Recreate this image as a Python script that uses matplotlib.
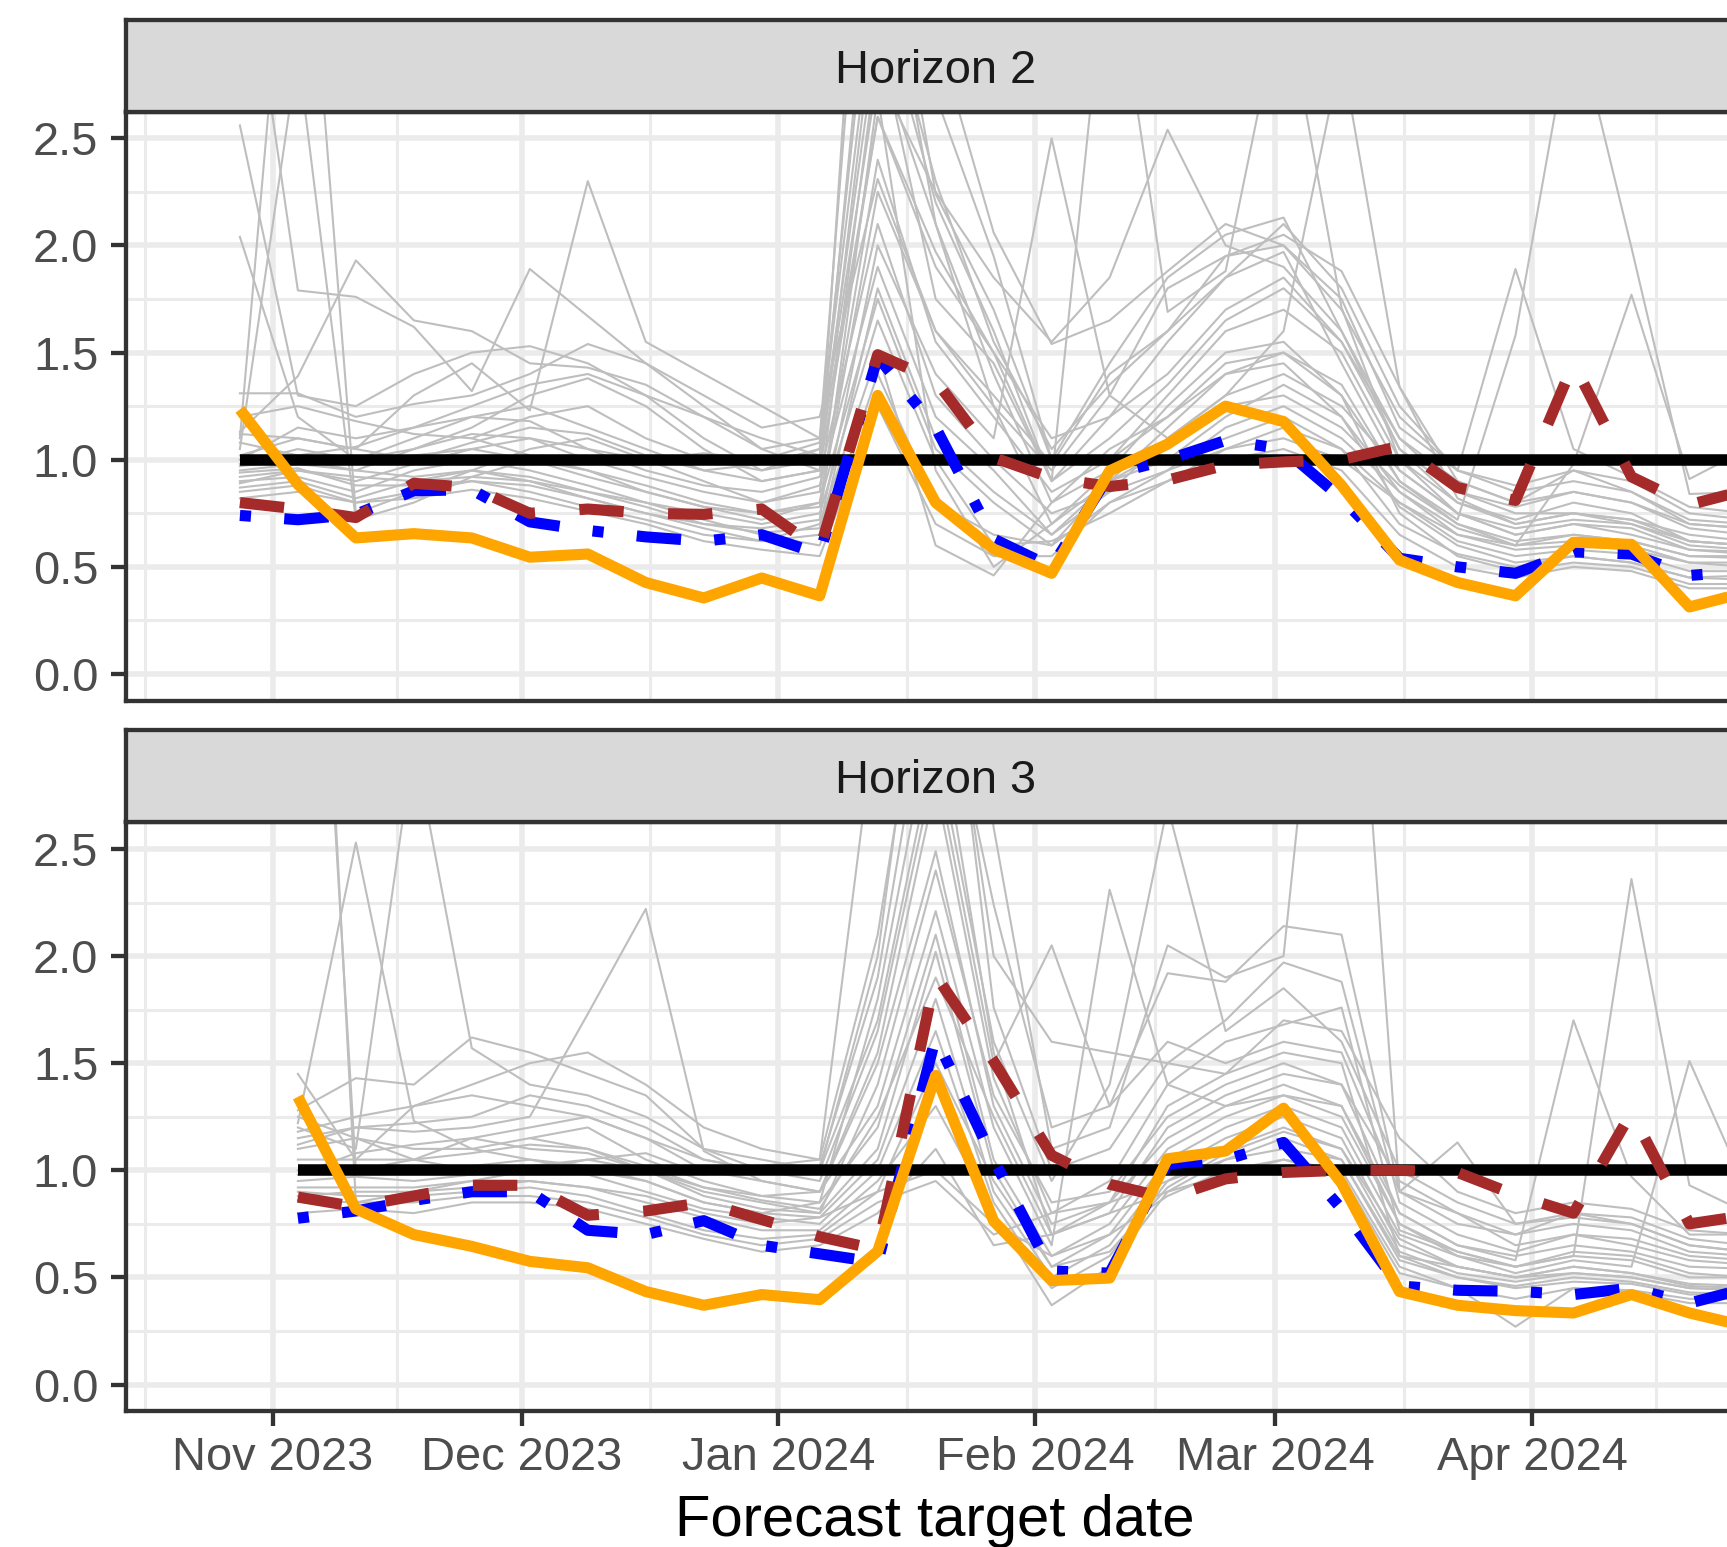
import numpy as np
import pandas as pd
import matplotlib
matplotlib.use("Agg")
import matplotlib.pyplot as plt
import matplotlib.dates as mdates
from matplotlib.ticker import FixedLocator

plt.rcParams['font.family'] = ['Liberation Sans', 'DejaVu Sans']

nan = np.nan
# ---------------- data ----------------
dates = pd.date_range("2023-10-28", periods=27, freq="7D")
panel_titles = ["Horizon 2", "Horizon 3"]
y_ticks = [0.0, 0.5, 1.0, 1.5, 2.0, 2.5]
y_tick_labels = ["0.0", "0.5", "1.0", "1.5", "2.0", "2.5"]

# Horizon 2
h2_baseline = [1.0, 1.0, 1.0, 1.0, 1.0, 1.0, 1.0, 1.0, 1.0, 1.0, 1.0, 1.0, 1.0, 1.0,
               1.0, 1.0, 1.0, 1.0, 1.0, 1.0, 1.0, 1.0, 1.0, 1.0, 1.0, 1.0, 1.0]
h2_orange = [1.235, 0.885, 0.635, 0.655, 0.635, 0.545, 0.56, 0.427, 0.355, 0.448, 0.365, 1.30, 0.80,
             0.583, 0.47, 0.948, 1.073, 1.25, 1.178, 0.88, 0.532, 0.427, 0.365, 0.615, 0.605, 0.313, 0.383]
h2_blue = [0.74, 0.72, 0.745, 0.855, 0.86, 0.71, 0.67, 0.64, 0.62, 0.65, 0.56, 1.48, 1.15,
           0.63, 0.50, 0.93, 1.00, 1.09, 1.05, 0.82, 0.54, 0.50, 0.47, 0.57, 0.56, 0.46, 0.48]
h2_brown = [0.80, 0.77, 0.73, 0.89, 0.87, 0.75, 0.77, 0.75, 0.745, 0.77, 0.58, 1.49, 1.37,
            1.01, 0.915, 0.875, 0.905, 0.975, 0.99, 1.00, 1.063, 0.87, 0.81, 1.45, 0.92, 0.79, 0.86]
h2_models = [
    [2.56, 1.30, 1.25, 1.40, 1.50, 1.53, 1.45, 1.30, 1.10, 0.95, 1.00, 3.80, 2.24, 1.70, 1.00, 1.45, 1.85, 2.05, 2.13, 1.60, 1.05, 0.80, 0.72, 0.80, 0.75, 0.62, 0.60],
    [2.04, 1.20, 1.00, 1.05, 1.15, 1.30, 1.38, 1.25, 1.05, 0.90, 0.95, 2.60, 1.97, 1.50, 0.90, 1.20, 1.55, 1.85, 1.97, 1.45, 0.95, 0.75, 0.65, 0.70, 0.68, 0.58, 0.56],
    [3.65, 1.79, 1.76, 1.62, 1.32, 1.89, 1.67, 1.45, 1.25, 1.05, 1.10, 4.50, 3.00, 2.06, 1.54, 1.65, 1.88, 2.10, 2.00, 1.70, 1.20, 0.95, 0.85, 0.90, 0.85, 0.72, 0.70],
    [1.31, 1.31, 1.20, 1.26, 1.30, 1.40, 1.54, 1.45, 1.30, 1.15, 1.20, 2.31, 1.60, 1.30, 0.98, 1.40, 1.60, 1.95, 2.05, 1.88, 1.34, 0.90, 0.80, 0.85, 0.80, 0.70, 0.68],
    [1.13, 1.39, 1.93, 1.65, 1.60, 1.45, 1.43, 1.35, 1.20, 1.05, 0.95, 3.20, 2.20, 1.60, 0.90, 1.10, 1.35, 1.65, 1.80, 1.55, 1.10, 0.85, 0.75, 0.75, 0.72, 0.65, 0.62],
    [1.10, 4.20, 0.75, 0.85, 0.95, 1.05, 1.10, 1.00, 0.90, 0.80, 0.85, 2.90, 2.10, 1.40, 0.80, 0.95, 1.25, 1.50, 1.55, 1.30, 0.90, 0.70, 0.60, 0.65, 0.62, 0.55, 0.55],
    [1.05, 2.90, 0.72, 0.80, 0.92, 1.00, 0.95, 0.88, 0.80, 0.75, 0.78, 2.25, 1.60, 1.25, 0.70, 0.90, 1.15, 1.40, 1.45, 1.20, 0.85, 0.65, 0.58, 0.60, 0.58, 0.52, 0.50],
    [1.00, 1.15, 1.10, 1.15, 1.20, 1.25, 1.15, 1.05, 0.95, 0.90, 0.95, 5.00, 2.70, 1.95, 1.00, 1.00, 1.30, 1.60, 1.70, 1.50, 1.00, 0.80, 0.70, 0.75, 0.70, 0.62, 0.60],
    [0.98, 1.05, 1.00, 1.10, 1.20, 1.18, 1.05, 0.95, 0.88, 0.85, 0.92, 2.10, 1.30, 1.00, 0.75, 0.85, 1.10, 1.30, 1.40, 1.25, 0.95, 0.75, 0.65, 0.70, 0.65, 0.58, 0.57],
    [0.95, 0.98, 0.95, 1.05, 1.12, 1.10, 1.00, 0.92, 0.85, 0.80, 0.88, 1.90, 1.20, 0.95, 0.65, 0.90, 1.05, 1.25, 1.30, 1.15, 0.88, 0.70, 0.62, 0.65, 0.62, 0.55, 0.54],
    [0.92, 0.95, 0.90, 0.98, 1.05, 1.00, 0.92, 0.85, 0.78, 0.72, 0.80, 1.75, 1.05, 0.80, 0.60, 0.80, 0.95, 1.15, 1.25, 1.10, 0.85, 0.68, 0.60, 0.62, 0.60, 0.52, 0.52],
    [0.90, 0.92, 0.85, 0.95, 1.00, 0.95, 0.88, 0.80, 0.75, 0.70, 0.75, 1.65, 1.00, 0.60, 0.62, 0.75, 0.90, 1.05, 1.10, 1.00, 0.80, 0.62, 0.55, 0.58, 0.56, 0.48, 0.48],
    [0.87, 0.90, 0.82, 0.90, 0.95, 0.90, 0.82, 0.75, 0.70, 0.68, 0.72, 2.70, 0.95, 0.50, 0.70, 0.95, 1.00, 1.20, 1.35, 1.20, 0.78, 0.60, 0.52, 0.55, 0.52, 0.45, 0.46],
    [0.85, 0.88, 0.80, 0.85, 0.90, 0.85, 0.78, 0.72, 0.65, 0.62, 0.70, 1.50, 0.60, 0.46, 0.80, 1.05, 1.20, 1.40, 1.50, 1.30, 0.75, 0.55, 0.48, 0.52, 0.50, 0.42, 0.42],
    [1.20, 1.25, 1.18, 1.12, 1.10, 1.20, 1.25, 1.10, 1.00, 0.95, 1.05, 2.80, 2.25, 1.85, 1.55, 1.85, 2.54, 2.00, 1.90, 1.60, 1.10, 0.90, 0.80, 0.95, 0.85, 0.70, 0.68],
    [1.02, 1.10, 1.05, 1.00, 1.08, 1.15, 1.12, 1.02, 0.95, 0.98, 1.05, 3.00, 1.75, 1.45, 0.90, 3.50, 1.69, 1.88, 3.20, 1.71, 1.00, 0.75, 0.68, 0.72, 0.70, 0.60, 0.58],
    [0.97, 1.00, 0.95, 0.92, 0.95, 0.92, 0.85, 0.78, 0.70, 0.66, 0.68, 2.00, 1.40, 1.10, 2.50, 1.30, 1.10, 1.30, 1.60, 2.90, 1.34, 0.82, 0.70, 0.75, 0.72, 0.62, 0.60],
    [0.89, 0.95, 0.92, 0.90, 0.92, 0.90, 0.85, 0.80, 0.72, 0.65, 0.60, 1.40, 0.80, 0.65, 0.60, 0.90, 1.00, 1.10, 1.20, 1.05, 0.70, 0.56, 0.50, 0.55, 0.52, 0.45, 0.44],
    [0.82, 0.85, 0.80, 0.82, 0.86, 0.82, 0.76, 0.70, 0.62, 0.58, 0.55, 1.25, 0.70, 0.55, 0.55, 0.80, 0.90, 1.00, 1.05, 0.95, 0.65, 0.50, 0.45, 0.50, 0.48, 0.40, 0.40],
    [1.00, 1.00, 1.00, 1.02, 1.05, 1.10, 1.05, 1.00, 1.03, 1.00, 1.08, 3.60, 2.10, 1.25, 0.95, 1.30, 1.80, 1.95, 2.00, 1.75, 1.15, 0.95, 1.89, 1.05, 0.92, 0.78, 0.75],
    [nan, nan, nan, nan, 1.10, 1.02, 0.95, 0.85, 0.78, 0.75, 0.80, 2.40, 1.55, 1.20, 0.85, 1.00, 1.20, 1.45, 1.50, 1.35, 0.90, 0.72, 1.58, 3.10, 1.99, 0.84, 0.85],
    [0.94, 0.96, 0.88, 0.88, 0.90, 0.88, 0.82, 0.75, 0.68, 0.62, 0.65, 1.80, 1.10, 0.85, 0.65, 0.85, 0.95, 1.05, 1.15, 1.05, 0.80, 0.65, 0.60, 0.98, 1.77, 0.91, 1.05],
    [1.08, 1.02, 1.06, 1.15, 1.25, 1.35, 1.40, 1.30, 1.20, 1.10, 1.02, 2.60, 1.90, 1.50, 1.10, 1.20, 1.40, 1.70, 1.85, 1.55, 1.05, 0.85, 0.78, 0.85, 0.80, 0.68, 0.65],
    [1.12, 1.10, 1.05, 1.30, 1.45, 1.23, 2.30, 1.55, 1.40, 1.25, 1.10, 3.30, 2.30, 1.55, 1.05, 1.35, 1.60, 1.85, 2.10, 1.80, 1.25, 0.95, 0.88, 0.95, 0.90, 0.75, 0.72],
]

# Horizon 3
h3_baseline = [nan, 1.0, 1.0, 1.0, 1.0, 1.0, 1.0, 1.0, 1.0, 1.0, 1.0, 1.0, 1.0, 1.0,
               1.0, 1.0, 1.0, 1.0, 1.0, 1.0, 1.0, 1.0, 1.0, 1.0, 1.0, 1.0, 1.0]
h3_orange = [nan, 1.343, 0.82, 0.70, 0.645, 0.575, 0.545, 0.434, 0.37, 0.42, 0.396, 0.622, 1.443,
             0.763, 0.485, 0.497, 1.054, 1.09, 1.29, 0.94, 0.434, 0.37, 0.345, 0.334, 0.42, 0.334, 0.27]
h3_blue = [nan, 0.776, 0.81, 0.86, 0.90, 0.90, 0.72, 0.70, 0.765, 0.65, 0.61, 0.57, 1.62,
           1.05, 0.53, 0.52, 1.03, 1.05, 1.13, 0.82, 0.46, 0.44, 0.435, 0.42, 0.45, 0.38, 0.45]
h3_brown = [nan, 0.875, 0.83, 0.88, 0.93, 0.93, 0.79, 0.81, 0.85, 0.77, 0.69, 0.63, 1.91,
            1.51, 1.07, 0.935, 0.87, 0.96, 0.99, 1.00, 1.00, 0.99, 0.885, 0.80, 1.27, 0.75, 0.79]
h3_models = [
    [nan, 1.45, 1.05, 1.30, 1.35, 1.30, 1.25, 1.15, 1.05, 1.00, 1.02, 1.90, 3.50, 2.24, 1.20, 1.30, 1.92, 1.88, 2.14, 2.10, 0.90, 0.75, 0.70, 0.80, 0.75, 0.65, 0.62],
    [nan, 1.28, 1.43, 1.40, 1.62, 1.55, 1.45, 1.35, 1.10, 1.05, 1.00, 2.00, 4.00, 1.76, 1.00, 1.10, 1.50, 1.70, 1.97, 1.88, 0.85, 0.70, 0.62, 0.70, 0.68, 0.60, 0.58],
    [nan, 5.50, 1.00, 1.05, 1.15, 1.20, 1.25, 1.15, 1.00, 0.95, 0.90, 1.55, 2.80, 1.43, 0.80, 0.95, 1.40, 1.60, 1.68, 1.76, 0.72, 0.62, 0.55, 0.62, 0.60, 0.52, 0.50],
    [nan, 6.00, 0.85, 0.90, 0.95, 1.00, 1.05, 1.00, 0.92, 0.88, 0.90, 1.50, 2.49, 1.30, 0.75, 0.85, 1.30, 1.45, 1.55, 1.50, 0.60, 0.55, 0.50, 0.55, 0.52, 0.46, 0.45],
    [nan, 1.22, 2.53, 1.23, 1.10, 1.05, 1.00, 0.95, 0.85, 0.80, 0.85, 1.80, 3.20, 1.55, 0.70, 0.80, 1.20, 1.35, 1.45, 1.40, 0.95, 0.80, 0.65, 0.70, 0.65, 0.58, 0.56],
    [nan, 1.20, 1.10, 3.00, 1.57, 1.40, 1.35, 1.25, 1.10, 1.00, 0.95, 1.65, 2.90, 1.50, 2.05, 1.30, 1.60, 1.50, 1.60, 1.55, 0.90, 1.13, 0.75, 0.80, 0.78, 0.68, 0.65],
    [nan, 1.15, 1.20, 1.18, 1.20, 1.25, 1.73, 2.22, 1.09, 0.95, 0.90, 1.30, 2.21, 1.20, 0.65, 2.31, 1.40, 1.30, 1.35, 1.30, 0.80, 0.65, 0.58, 1.70, 0.97, 0.70, 0.70],
    [nan, 1.10, 1.15, 1.10, 1.10, 1.15, 1.20, 1.05, 0.95, 0.88, 0.85, 1.20, 2.10, 1.05, 0.60, 0.75, 1.10, 1.25, 1.35, 1.25, 0.75, 0.62, 0.55, 0.60, 2.36, 0.93, 0.80],
    [nan, 1.05, 1.05, 1.05, 1.08, 1.12, 1.10, 1.00, 0.90, 0.85, 0.80, 1.10, 2.02, 1.00, 0.55, 0.70, 1.05, 1.20, 1.30, 1.20, 0.70, 0.60, 0.52, 0.58, 0.55, 1.51, 0.90],
    [nan, 1.00, 1.00, 1.00, 1.02, 1.05, 1.02, 0.95, 0.85, 0.80, 0.78, 1.05, 1.80, 0.90, 0.50, 0.65, 1.00, 1.15, 1.25, 1.15, 0.65, 0.55, 0.50, 0.55, 0.52, 0.47, 0.46],
    [nan, 0.95, 0.97, 0.95, 0.98, 1.00, 0.98, 0.90, 0.82, 0.78, 0.75, 1.00, 1.65, 0.85, 0.45, 0.60, 0.95, 1.10, 1.20, 1.10, 0.62, 0.52, 0.48, 0.52, 0.50, 0.45, 0.44],
    [nan, 0.92, 0.92, 0.92, 0.95, 0.95, 0.92, 0.85, 0.78, 0.72, 0.72, 0.95, 1.30, 0.80, 0.37, 0.55, 0.90, 1.05, 1.10, 1.05, 0.58, 0.50, 0.45, 0.48, 0.47, 0.42, 0.42],
    [nan, 0.90, 0.88, 0.88, 0.90, 0.92, 0.88, 0.80, 0.72, 0.68, 0.70, 0.90, 1.00, 0.75, 0.60, 0.70, 0.88, 1.00, 1.05, 1.00, 0.55, 0.45, 0.27, 0.45, 0.44, 0.40, 0.40],
    [nan, 0.86, 0.85, 0.85, 0.88, 0.88, 0.85, 0.78, 0.70, 0.65, 0.68, 0.85, 0.95, 0.70, 0.80, 0.85, 0.95, 1.05, 1.15, 1.05, 0.60, 0.50, 0.46, 0.50, 0.48, 0.43, 0.42],
    [nan, 0.80, 0.82, 0.80, 0.85, 0.85, 0.82, 0.75, 0.68, 0.62, 0.65, 0.80, 1.10, 0.65, 0.70, 0.80, 0.90, 0.98, 1.05, 0.98, 0.52, 0.45, 0.40, 0.45, 0.43, 0.38, 0.38],
    [nan, 1.18, 1.25, 1.30, 1.40, 1.50, 1.55, 1.40, 1.20, 1.10, 1.05, 3.20, 5.00, 2.60, 1.10, 1.20, 2.05, 1.90, 2.00, 4.60, 0.90, 0.80, 0.70, 0.75, 0.72, 0.62, 0.60],
    [nan, 1.12, 1.20, 1.22, 1.25, 1.35, 1.30, 1.20, 1.05, 1.00, 1.00, 1.70, 3.00, 1.60, 0.95, 1.40, 2.70, 1.65, 1.85, 1.60, 1.00, 0.85, 0.75, 0.78, 0.75, 0.65, 0.62],
    [nan, 0.98, 1.08, 1.12, 1.15, 1.10, 1.08, 1.00, 0.88, 0.82, 0.80, 1.40, 2.40, 1.35, 0.85, 0.90, 1.25, 1.40, 1.50, 1.40, 0.80, 0.65, 0.60, 0.65, 0.62, 0.55, 0.54],
    [nan, nan, nan, nan, nan, 1.15, 1.10, 1.02, 0.92, 0.86, 0.82, 1.25, 1.90, 1.25, 0.70, 0.85, 1.15, 1.30, 1.40, 1.30, 0.75, 0.60, 0.55, 0.60, 0.58, 0.50, 0.50],
    [nan, 1.25, 1.15, 1.05, 1.00, 1.02, 1.05, 1.08, 0.98, 1.02, 1.05, 2.10, 3.80, 2.00, 1.60, 1.55, 1.50, 1.45, 1.70, 1.65, 1.15, 0.90, 0.80, 0.85, 0.82, 0.72, 0.70],
    [nan, 0.88, 0.90, 0.90, 0.92, 0.95, 0.92, 0.88, 0.80, 0.75, 0.78, 0.90, 1.50, 0.95, 0.55, 0.62, 0.92, 1.08, 1.18, 1.10, 0.68, 0.55, 0.50, 0.52, 0.50, 0.45, 0.44],
]

panels = [
    dict(title=panel_titles[0], models=h2_models, base=h2_baseline,
         blue=h2_blue, brown=h2_brown, orange=h2_orange),
    dict(title=panel_titles[1], models=h3_models, base=h3_baseline,
         blue=h3_blue, brown=h3_brown, orange=h3_orange),
]

# ---------------- layout (pixels) ----------------
W, H = 1727, 1547
fig = plt.figure(figsize=(W / 100, H / 100), dpi=100)
fig.patch.set_facecolor("white")

def rect(l, t, r, b):
    return [l / W, 1 - b / H, (r - l) / W, (b - t) / H]

LEFT, RIGHT = 126, 1745
geom = [  # strip top, panel top, panel bottom
    (20.0, 111.5, 700.8),
    (730.2, 822.2, 1411.3),
]
xlim = (mdates.date2num(pd.Timestamp("2023-10-14 06:00")),
        mdates.date2num(pd.Timestamp("2024-04-26 17:00")))
ylim = (-0.125, 2.625)

month_starts = pd.date_range("2023-10-01", "2024-06-01", freq="MS")
major_x = mdates.date2num(month_starts)
minor_x = (major_x[:-1] + major_x[1:]) / 2
minor_y = [0.25, 0.75, 1.25, 1.75, 2.25]

border_col = "#333333"
lw_border = 3.1
col_lw = 8.0

for i, p in enumerate(panels):
    st, pt, pb = geom[i]
    ax = fig.add_axes(rect(LEFT, pt, RIGHT, pb))
    ax.set_xlim(*xlim)
    ax.set_ylim(*ylim)
    ax.set_axisbelow(True)
    ax.xaxis.set_major_locator(FixedLocator(major_x))
    ax.xaxis.set_minor_locator(FixedLocator(minor_x))
    ax.yaxis.set_major_locator(FixedLocator(y_ticks))
    ax.yaxis.set_minor_locator(FixedLocator(minor_y))
    ax.set_yticklabels(y_tick_labels)
    ax.xaxis.set_major_formatter(mdates.DateFormatter("%b %Y"))
    ax.grid(which="major", color="#EBEBEB", lw=4.0)
    ax.grid(which="minor", color="#EBEBEB", lw=2.2)
    for s in ax.spines.values():
        s.set_color(border_col)
        s.set_linewidth(lw_border)
    ax.tick_params(which="minor", length=0)
    ax.tick_params(axis="y", which="major", length=10.5, width=lw_border, color=border_col,
                   labelsize=33.8, labelcolor="#4D4D4D", pad=9.5)
    if i == 0:
        ax.tick_params(axis="x", which="major", length=0, labelbottom=False)
    else:
        ax.tick_params(axis="x", which="major", length=10.5, width=lw_border, color=border_col,
                       labelsize=33.8, labelcolor="#4D4D4D", pad=7)

    x = mdates.date2num(dates)
    for m in p["models"]:
        ax.plot(x, m, color="#BEBEBE", lw=1.5, solid_joinstyle="round", zorder=2)
    ax.plot(x, p["base"], color="black", lw=8.3, solid_capstyle="butt", zorder=3)
    ax.plot(x, p["blue"], color="blue", lw=col_lw,
            linestyle=(0, (1.0, 3.0, 4.0, 3.0)), dash_capstyle="butt",
            dash_joinstyle="round", zorder=4)
    ax.plot(x, p["brown"], color="#A52A2A", lw=col_lw,
            linestyle=(0, (4.0, 4.0)), dash_capstyle="butt",
            dash_joinstyle="round", zorder=5)
    ax.plot(x, p["orange"], color="#FFA500", lw=col_lw, solid_capstyle="butt",
            solid_joinstyle="round", zorder=6)

    # strip
    sax = fig.add_axes(rect(LEFT, st, RIGHT, pt))
    sax.set_facecolor("#D9D9D9")
    sax.set_xticks([])
    sax.set_yticks([])
    for s in sax.spines.values():
        s.set_color(border_col)
        s.set_linewidth(lw_border)
    fig.text((LEFT + RIGHT) / 2 / W, 1 - (st + 62.7) / H, p["title"],
             ha="center", va="baseline", fontsize=33.8, color="#1A1A1A")

fig.text(935 / W, 1 - 1536.5 / H, "Forecast target date", ha="center",
         va="baseline", fontsize=41.8, color="black")

fig.savefig("out.png", dpi=100)
